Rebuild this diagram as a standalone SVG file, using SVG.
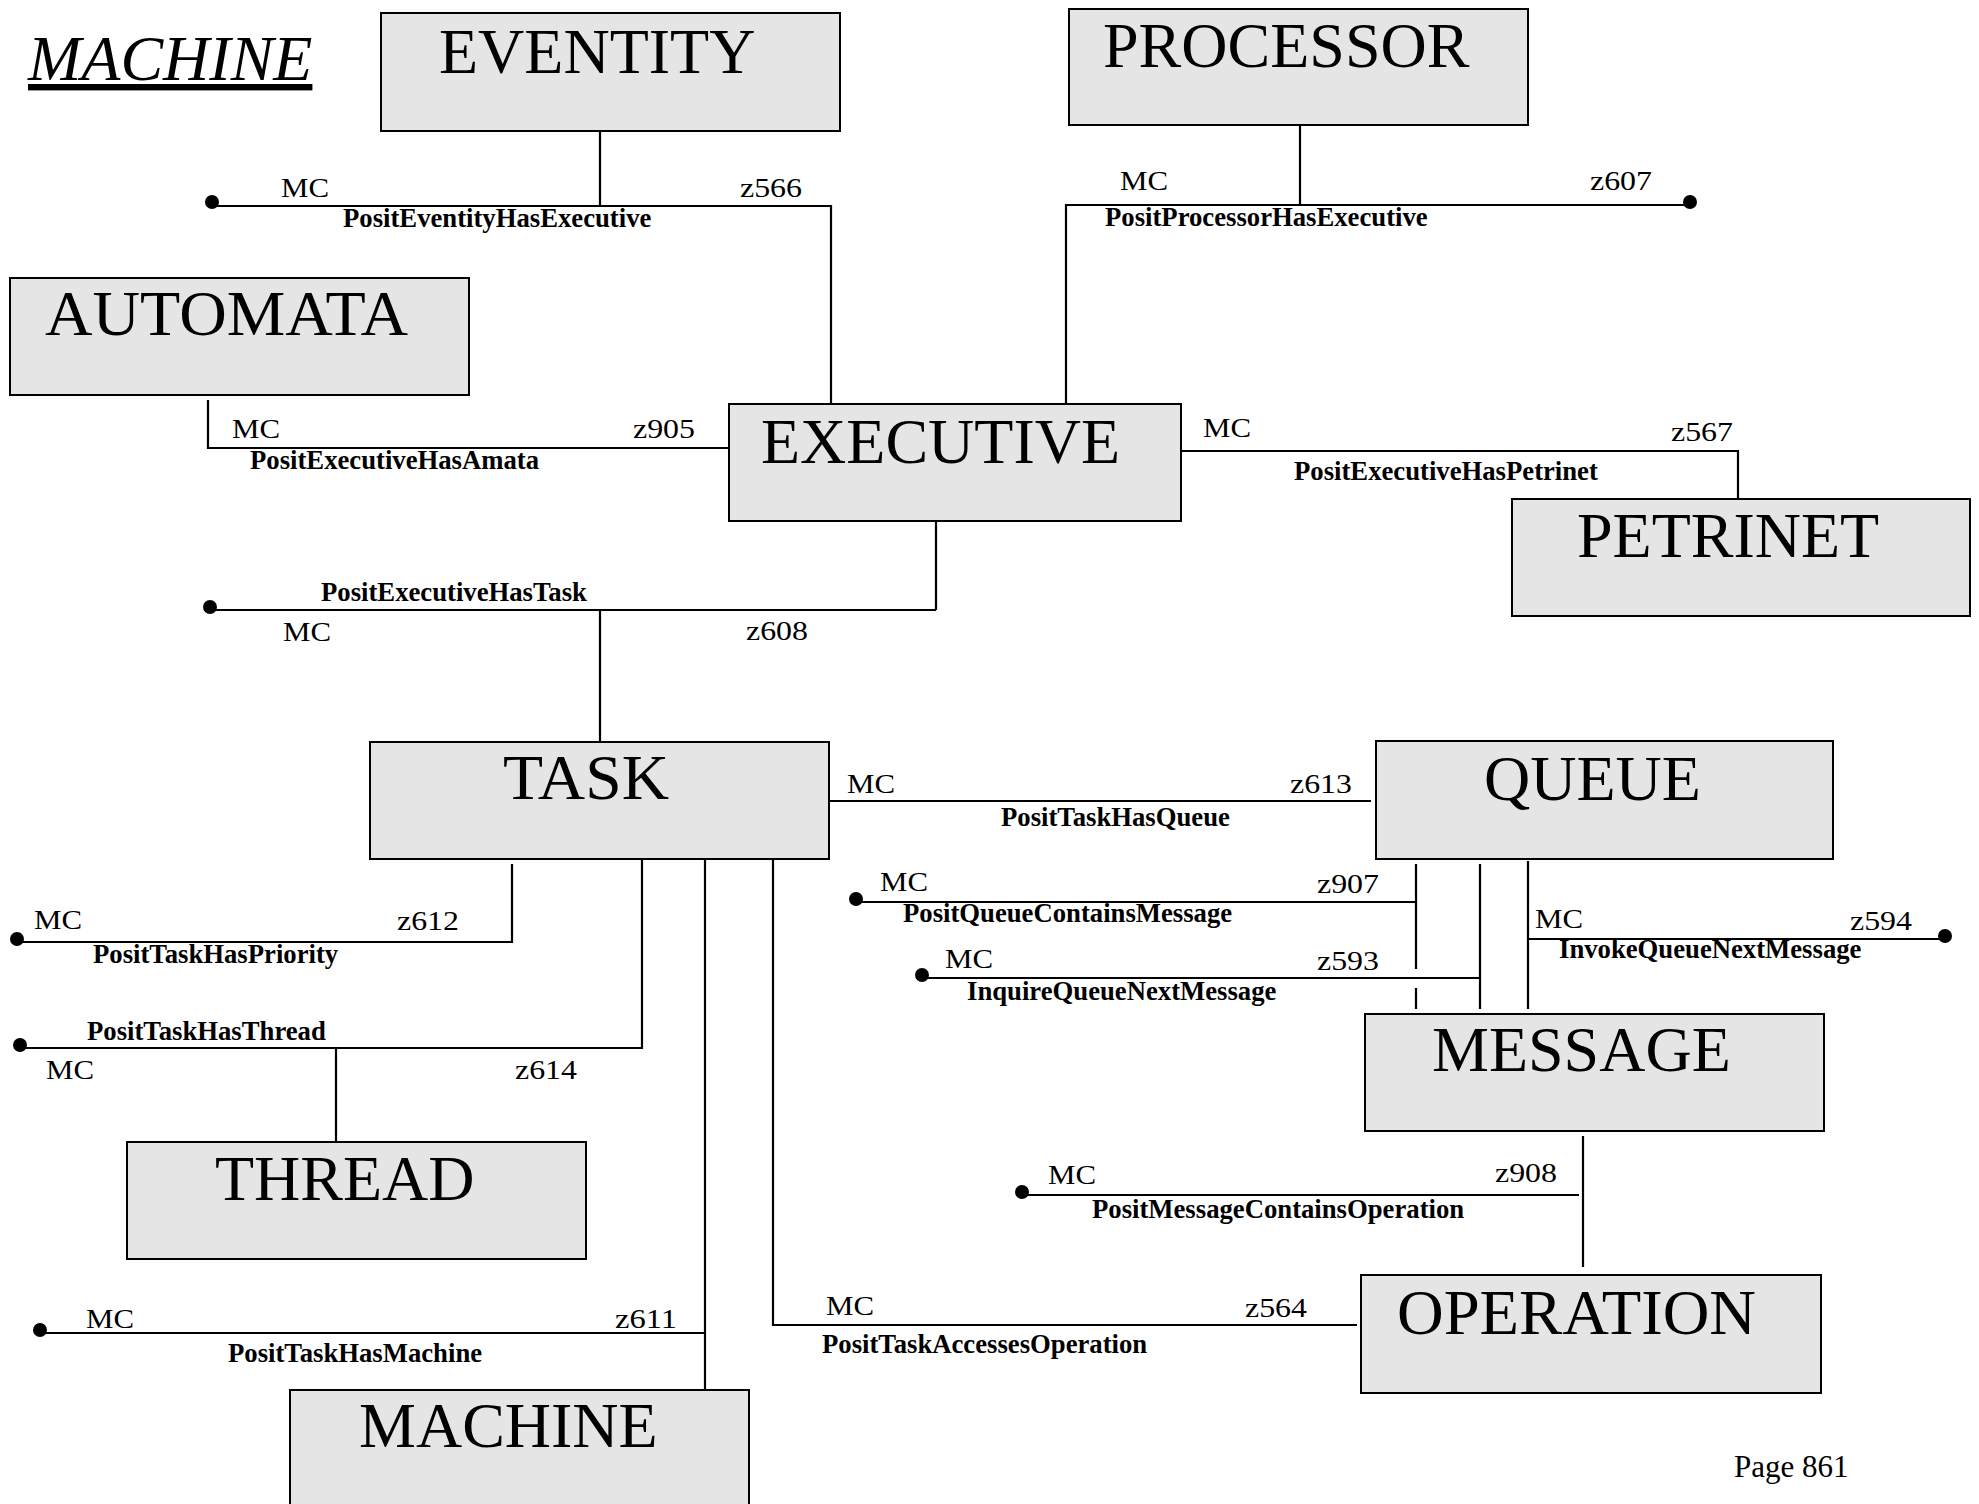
<svg xmlns="http://www.w3.org/2000/svg" width="1979" height="1504" viewBox="0 0 1979 1504">
<style>
.box{fill:#e5e5e5;stroke:#000;stroke-width:2}
.nt{font-family:"Liberation Serif","Times New Roman",serif;font-size:64px;fill:#000}
.ln{fill:none;stroke:#000;stroke-width:2.2}
.dot{fill:#000}
.r{font-family:"Liberation Serif","Times New Roman",serif;font-size:28px;fill:#000}
.b{font-family:"Liberation Serif","Times New Roman",serif;font-size:26.7px;font-weight:bold;fill:#000}
</style>
<rect width="1979" height="1504" fill="#fff"/>
<text x="28" y="80" font-family="'Liberation Serif','Times New Roman',serif" font-size="64" font-style="italic" text-decoration="underline">MACHINE</text>

<g id="connectors">
  <g id="c-eventity-executive">
    <path class="ln" d="M600,131 V206 M212,206 H831 V404"/>
    <circle class="dot" cx="212" cy="202" r="7"/>
    <text class="r" x="281" y="197" textLength="48" lengthAdjust="spacingAndGlyphs">MC</text>
    <text class="r" x="740" y="197" textLength="62" lengthAdjust="spacingAndGlyphs">z566</text>
    <text class="b" x="343" y="227">PositEventityHasExecutive</text>
  </g>
  <g id="c-processor-executive">
    <path class="ln" d="M1300,125 V205 M1066,404 V205 H1690"/>
    <circle class="dot" cx="1690" cy="202" r="7"/>
    <text class="r" x="1120" y="190" textLength="48" lengthAdjust="spacingAndGlyphs">MC</text>
    <text class="r" x="1590" y="190" textLength="62" lengthAdjust="spacingAndGlyphs">z607</text>
    <text class="b" x="1105" y="226">PositProcessorHasExecutive</text>
  </g>
  <g id="c-executive-automata">
    <path class="ln" d="M208,400 V448 H729"/>
    <text class="r" x="232" y="438" textLength="48" lengthAdjust="spacingAndGlyphs">MC</text>
    <text class="r" x="633" y="438" textLength="62" lengthAdjust="spacingAndGlyphs">z905</text>
    <text class="b" x="250" y="469">PositExecutiveHasAmata</text>
  </g>
  <g id="c-executive-petrinet">
    <path class="ln" d="M1181,451 H1738 V499"/>
    <text class="r" x="1203" y="437" textLength="48" lengthAdjust="spacingAndGlyphs">MC</text>
    <text class="r" x="1671" y="441" textLength="62" lengthAdjust="spacingAndGlyphs">z567</text>
    <text class="b" x="1294" y="480">PositExecutiveHasPetrinet</text>
  </g>
  <g id="c-executive-task">
    <path class="ln" d="M936,521 V610 M210,610 H936 M600,610 V747"/>
    <circle class="dot" cx="210" cy="607" r="7"/>
    <text class="b" x="321" y="601">PositExecutiveHasTask</text>
    <text class="r" x="283" y="641" textLength="48" lengthAdjust="spacingAndGlyphs">MC</text>
    <text class="r" x="746" y="640" textLength="62" lengthAdjust="spacingAndGlyphs">z608</text>
  </g>
  <g id="c-task-queue">
    <path class="ln" d="M829,801 H1371"/>
    <text class="r" x="847" y="793" textLength="48" lengthAdjust="spacingAndGlyphs">MC</text>
    <text class="r" x="1290" y="793" textLength="62" lengthAdjust="spacingAndGlyphs">z613</text>
    <text class="b" x="1001" y="826">PositTaskHasQueue</text>
  </g>
  <g id="c-task-priority">
    <path class="ln" d="M512,864 V942 H17"/>
    <circle class="dot" cx="17" cy="939" r="7"/>
    <text class="r" x="34" y="929" textLength="48" lengthAdjust="spacingAndGlyphs">MC</text>
    <text class="r" x="397" y="930" textLength="62" lengthAdjust="spacingAndGlyphs">z612</text>
    <text class="b" x="93" y="963">PositTaskHasPriority</text>
  </g>
  <g id="c-task-thread">
    <path class="ln" d="M642,859 V1048 H20 M336,1048 V1142"/>
    <circle class="dot" cx="20" cy="1045" r="7"/>
    <text class="b" x="87" y="1040">PositTaskHasThread</text>
    <text class="r" x="46" y="1079" textLength="48" lengthAdjust="spacingAndGlyphs">MC</text>
    <text class="r" x="515" y="1079" textLength="62" lengthAdjust="spacingAndGlyphs">z614</text>
  </g>
  <g id="c-task-machine">
    <path class="ln" d="M705,859 V1390 M40,1333 H705"/>
    <circle class="dot" cx="40" cy="1330" r="7"/>
    <text class="r" x="86" y="1328" textLength="48" lengthAdjust="spacingAndGlyphs">MC</text>
    <text class="r" x="615" y="1328" textLength="62" lengthAdjust="spacingAndGlyphs">z611</text>
    <text class="b" x="228" y="1362">PositTaskHasMachine</text>
  </g>
  <g id="c-task-operation">
    <path class="ln" d="M773,856 V1325 H1357"/>
    <text class="r" x="826" y="1315" textLength="48" lengthAdjust="spacingAndGlyphs">MC</text>
    <text class="r" x="1245" y="1317" textLength="62" lengthAdjust="spacingAndGlyphs">z564</text>
    <text class="b" x="822" y="1353">PositTaskAccessesOperation</text>
  </g>
  <g id="c-queue-message-contains">
    <path class="ln" d="M1416,864 V969 M1416,988 V1009 M856,902 H1416"/>
    <circle class="dot" cx="856" cy="899" r="7"/>
    <text class="r" x="880" y="891" textLength="48" lengthAdjust="spacingAndGlyphs">MC</text>
    <text class="r" x="1317" y="893" textLength="62" lengthAdjust="spacingAndGlyphs">z907</text>
    <text class="b" x="903" y="922">PositQueueContainsMessage</text>
  </g>
  <g id="c-queue-message-inquire">
    <path class="ln" d="M1480,864 V1009 M922,978 H1480"/>
    <circle class="dot" cx="922" cy="975" r="7"/>
    <text class="r" x="945" y="968" textLength="48" lengthAdjust="spacingAndGlyphs">MC</text>
    <text class="r" x="1317" y="970" textLength="62" lengthAdjust="spacingAndGlyphs">z593</text>
    <text class="b" x="967" y="1000">InquireQueueNextMessage</text>
  </g>
  <g id="c-queue-message-invoke">
    <path class="ln" d="M1528,861 V1009 M1528,939 H1945"/>
    <circle class="dot" cx="1945" cy="936" r="7"/>
    <text class="r" x="1535" y="928" textLength="48" lengthAdjust="spacingAndGlyphs">MC</text>
    <text class="r" x="1850" y="930" textLength="62" lengthAdjust="spacingAndGlyphs">z594</text>
    <text class="b" x="1559" y="958">InvokeQueueNextMessage</text>
  </g>
  <g id="c-message-operation">
    <path class="ln" d="M1583,1136 V1267 M1022,1195 H1579"/>
    <circle class="dot" cx="1022" cy="1192" r="7"/>
    <text class="r" x="1048" y="1184" textLength="48" lengthAdjust="spacingAndGlyphs">MC</text>
    <text class="r" x="1495" y="1182" textLength="62" lengthAdjust="spacingAndGlyphs">z908</text>
    <text class="b" x="1092" y="1218">PositMessageContainsOperation</text>
  </g>
</g>

<g id="eventity"><rect class="box" x="381" y="13" width="459" height="118"/><text class="nt" x="439" y="73">EVENTITY</text></g>
<g id="processor"><rect class="box" x="1069" y="9" width="459" height="116"/><text class="nt" x="1103" y="67">PROCESSOR</text></g>
<g id="automata"><rect class="box" x="10" y="278" width="459" height="117"/><text class="nt" x="45" y="335" textLength="363" lengthAdjust="spacingAndGlyphs">AUTOMATA</text></g>
<g id="executive"><rect class="box" x="729" y="404" width="452" height="117"/><text class="nt" x="761" y="463">EXECUTIVE</text></g>
<g id="petrinet"><rect class="box" x="1512" y="499" width="458" height="117"/><text class="nt" x="1577" y="557">PETRINET</text></g>
<g id="task"><rect class="box" x="370" y="742" width="459" height="117"/><text class="nt" x="503" y="799" textLength="166" lengthAdjust="spacingAndGlyphs">TASK</text></g>
<g id="queue"><rect class="box" x="1376" y="741" width="457" height="118"/><text class="nt" x="1484" y="800">QUEUE</text></g>
<g id="message"><rect class="box" x="1365" y="1014" width="459" height="117"/><text class="nt" x="1432" y="1071">MESSAGE</text></g>
<g id="thread"><rect class="box" x="127" y="1142" width="459" height="117"/><text class="nt" x="215" y="1200">THREAD</text></g>
<g id="machine"><rect class="box" x="290" y="1390" width="459" height="117"/><text class="nt" x="359" y="1447">MACHINE</text></g>
<g id="operation"><rect class="box" x="1361" y="1275" width="460" height="118"/><text class="nt" x="1397" y="1334" textLength="359" lengthAdjust="spacingAndGlyphs">OPERATION</text></g>

<text x="1734" y="1477" font-family="'Liberation Serif','Times New Roman',serif" font-size="31">Page 861</text>
</svg>
